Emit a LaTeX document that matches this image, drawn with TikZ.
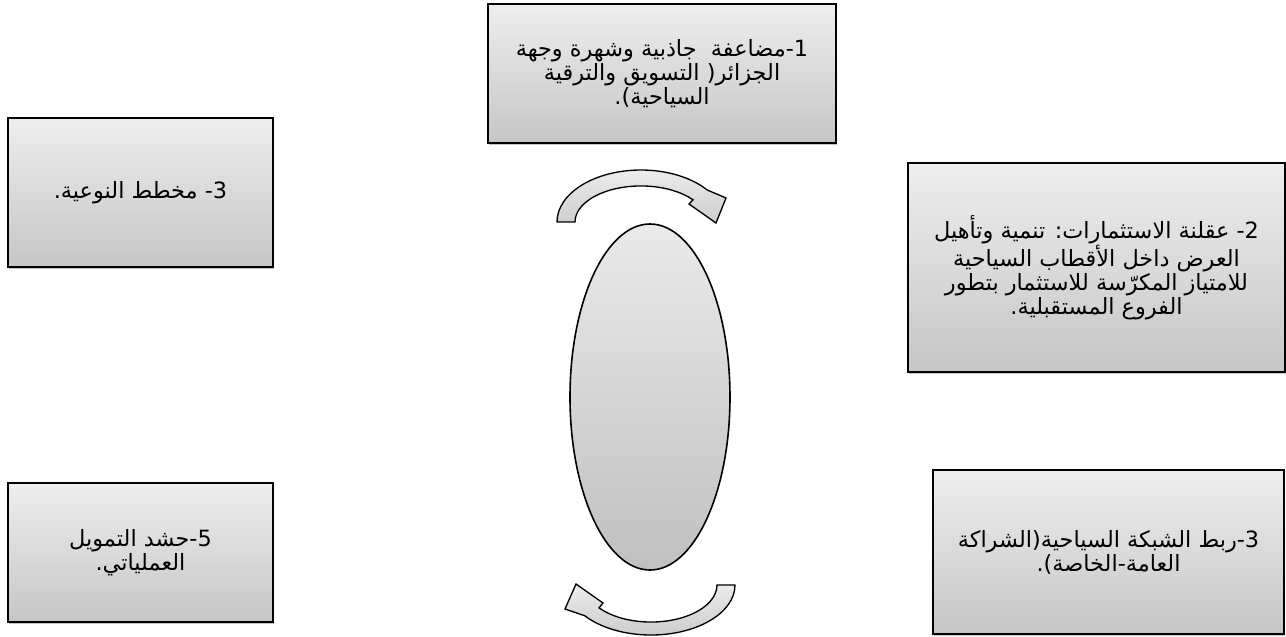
\documentclass[tikz,border=0pt]{standalone}
\usepackage{fontspec}
\usetikzlibrary{shapes.geometric,shadows}
\newfontfamily\arabicfont[Script=Arabic]{DejaVu Sans}
\TeXXeTstate=1
\definecolor{boxtop}{RGB}{238,238,238}
\definecolor{boxbot}{RGB}{198,198,198}
\definecolor{elltop}{RGB}{234,234,234}
\definecolor{ellbot}{RGB}{192,192,192}
\definecolor{arrtop}{RGB}{236,236,236}
\definecolor{arrbot}{RGB}{205,205,205}
\tikzset{
  box/.style={rectangle, draw=black, line width=2pt, top color=boxtop, bottom color=boxbot,
    align=center, inner sep=0pt,
    font=\arabicfont\fontsize{16.8}{18}\selectfont,
    drop shadow={shadow xshift=1pt, shadow yshift=-1.5pt, opacity=0.45, fill=gray}},
  oval/.style={ellipse, draw=black, line width=1.2pt, top color=elltop, bottom color=ellbot, inner sep=0pt},
  curvarrow/.style={draw=black, line width=1pt, top color=arrtop, bottom color=arrbot, line join=miter}
}
\begin{document}
\begin{tikzpicture}[x=0.75pt,y=-0.75pt]
\useasboundingbox[fill=white] (0,0) rectangle (1286,636);

\node[box, minimum width=261pt, minimum height=104.25pt] (n1) at (662,73.5)
  {\beginR\hbox{1}\hbox{-}مضاعفة\ \ جاذبية وشهرة وجهة\endR\\
   \beginR الجزائر( التسويق والترقية\endR\\
   \beginR السياحية).\endR};

\node[box, minimum width=282.75pt, minimum height=156.75pt] (n2) at (1096.5,267.5)
  {\beginR\hbox{2}\hbox{-} عقلنة الاستثمارات: تنمية وتأهيل\endR\\
   \beginR العرض داخل الأقطاب السياحية\endR\\
   \beginR للامتياز المكرّسة للاستثمار بتطور\endR\\
   \beginR الفروع المستقبلية.\endR};

\node[box, minimum width=198.75pt, minimum height=111.75pt] (n3) at (140.5,192.5)
  {\beginR\hbox{3}\hbox{-} مخطط النوعية.\endR};

\node[box, minimum width=263.25pt, minimum height=123pt] (n4) at (1108.5,552)
  {\beginR\hbox{3}\hbox{-}ربط الشبكة السياحية(الشراكة\endR\\
   \beginR العامة-الخاصة).\endR};

\node[box, minimum width=198.75pt, minimum height=104.25pt] (n5) at (140.5,552.5)
  {\beginR\hbox{5}\hbox{-}حشد التمويل\endR\\
   \beginR العملياتي.\endR};

\node[oval, minimum width=120pt, minimum height=259.5pt] (ell) at (650,397) {};

\draw[curvarrow] (557,222) arc[start angle=180, end angle=322, x radius=84, y radius=52]
  -- (726,198) -- (716,223) -- (689,204) -- (693,199.8)
  arc[start angle=322, end angle=180, x radius=66, y radius=36] -- cycle;

\draw[curvarrow] (735,585) arc[start angle=0, end angle=142, x radius=84, y radius=50]
  -- (565,609) -- (576,584) -- (603,603) -- (599,607.8)
  arc[start angle=142, end angle=0, x radius=66, y radius=37] -- cycle;
\end{tikzpicture}
\end{document}
